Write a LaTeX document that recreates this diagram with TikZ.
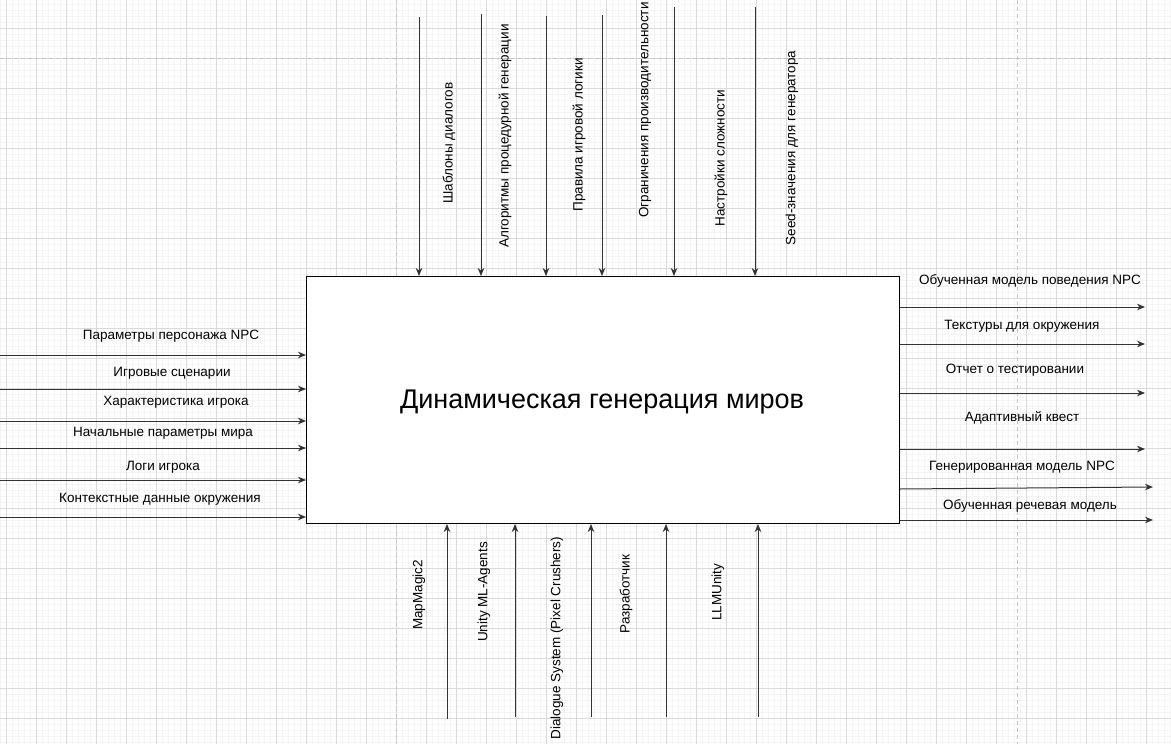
\documentclass[tikz,border=0pt]{standalone}
\usepackage{fontspec}
\setmainfont{Liberation Sans}
\usetikzlibrary{arrows.meta}
\definecolor{minorc}{HTML}{F4F4F4}
\definecolor{majorc}{HTML}{DADADA}
\definecolor{pagec}{HTML}{C4C4C4}
\definecolor{linec}{HTML}{333333}
\begin{document}
\begin{tikzpicture}[x=1pt,y=-1pt,
  minorgrid/.style={draw=minorc, line width=0.6pt},
  majorgrid/.style={draw=majorc, line width=0.8pt},
  pagebreak/.style={draw=pagec, line width=1pt, dash pattern=on 4pt off 3pt},
  flow/.style={draw=linec, line width=1pt, -{Stealth[length=8pt,width=6.5pt,inset=2.5pt]}},
  lbl/.style={font=\fontsize{13.5}{16}\selectfont, inner sep=0pt},
  vlbl/.style={lbl, rotate=90},
  func/.style={draw=black, line width=1pt, fill=white, minimum width=593pt, minimum height=247pt, anchor=north west, inner sep=0pt},
  title/.style={font=\fontsize{27}{32}\selectfont, inner sep=0pt},
]
\path[use as bounding box] (0,0) rectangle (1171,744);
\fill[white] (0,0) rectangle (1171,744);
% grid
\foreach \i in {0,...,195} \draw[minorgrid] (0.7+6*\i,0) -- (0.7+6*\i,744);
\foreach \i in {0,...,124} \draw[minorgrid] (0,4.3+6*\i) -- (1171,4.3+6*\i);
\foreach \i in {0,...,39} \draw[majorgrid] (6.7+30*\i,0) -- (6.7+30*\i,744);
\foreach \i in {0,...,25} \draw[majorgrid] (0,28.3+30*\i) -- (1171,28.3+30*\i);
\draw[pagebreak] (0,58.3) -- (1171,58.3);
\draw[pagebreak] (396.7,0) -- (396.7,744);
\draw[pagebreak] (1017,0) -- (1017,744);

% function box
\node[func] (main) at (306,276) {};
\node[title] (maintitle) at (602,402) {Динамическая генерация миров};

% controls (top)
\coordinate (c1) at (419,17);
\coordinate (c2) at (481,14);
\coordinate (c3) at (546,16);
\coordinate (c4) at (602,15);
\coordinate (c5) at (674,7);
\coordinate (c6) at (755,7);
\foreach \c in {c1,c2,c3,c4,c5,c6} \draw[flow] (\c) -- (\c |- main.north);
\node[vlbl] (tc1) at (449,143) {Шаблоны диалогов};
\node[vlbl] (tc2) at (505,136) {Алгоритмы процедурной генерации};
\node[vlbl] (tc3) at (579,135) {Правила игровой логики};
\node[vlbl] (tc4) at (645,110) {Ограничения производительности};
\node[vlbl] (tc5) at (721,158) {Настройки сложности};
\node[vlbl] (tc6) at (792,148) {Seed-значения для генератора};

% inputs (left)
\coordinate (i1) at (0,355);
\coordinate (i2) at (0,389);
\coordinate (i3) at (0,421);
\coordinate (i4) at (0,448);
\coordinate (i5) at (0,480);
\coordinate (i6) at (0,517);
\foreach \c in {i1,i2,i3,i4,i5,i6} \draw[flow] (\c) -- (\c -| main.west);
\node[lbl] (ti1) at (171,336) {Параметры персонажа NPC};
\node[lbl] (ti2) at (172,373) {Игровые сценарии};
\node[lbl] (ti3) at (176,402) {Характеристика игрока};
\node[lbl] (ti4) at (163,433) {Начальные параметры мира};
\node[lbl] (ti5) at (163,467) {Логи игрока};
\node[lbl] (ti6) at (160,499) {Контекстные данные окружения};

% outputs (right)
\coordinate (o1) at (1145,307);
\coordinate (o2) at (1145,344);
\coordinate (o3) at (1145,393);
\coordinate (o4) at (1145,449);
\coordinate (o5) at (1153,487);
\coordinate (o6) at (1153,520);
\foreach \c in {o1,o2,o3,o4,o6} \draw[flow] (\c -| main.east) -- (\c);
\draw[flow] ([yshift=-2pt]main.east |- o5) -- (o5);
\node[lbl] (to1) at (1030,281) {Обученная модель поведения NPC};
\node[lbl] (to2) at (1022,326) {Текстуры для окружения};
\node[lbl] (to3) at (1015,370) {Отчет о тестировании};
\node[lbl] (to4) at (1022,418) {Адаптивный квест};
\node[lbl] (to5) at (1022,467) {Генерированная модель NPC};
\node[lbl] (to6) at (1030,506) {Обученная речевая модель};

% mechanisms (bottom)
\coordinate (m1) at (447,719);
\coordinate (m2) at (515,717);
\coordinate (m3) at (591,717);
\coordinate (m4) at (666,717);
\coordinate (m5) at (758,717);
\foreach \c in {m1,m2,m3,m4,m5} \draw[flow] (\c) -- (\c |- main.south);
\node[vlbl] (tm1) at (419,595) {MapMagic2};
\node[vlbl] (tm2) at (484,592) {Unity ML-Agents};
\node[vlbl] (tm3) at (557,638) {Dialogue System (Pixel Crushers)};
\node[vlbl] (tm4) at (626,594) {Разработчик};
\node[vlbl] (tm5) at (718,592) {LLMUnity};
\end{tikzpicture}
\end{document}
